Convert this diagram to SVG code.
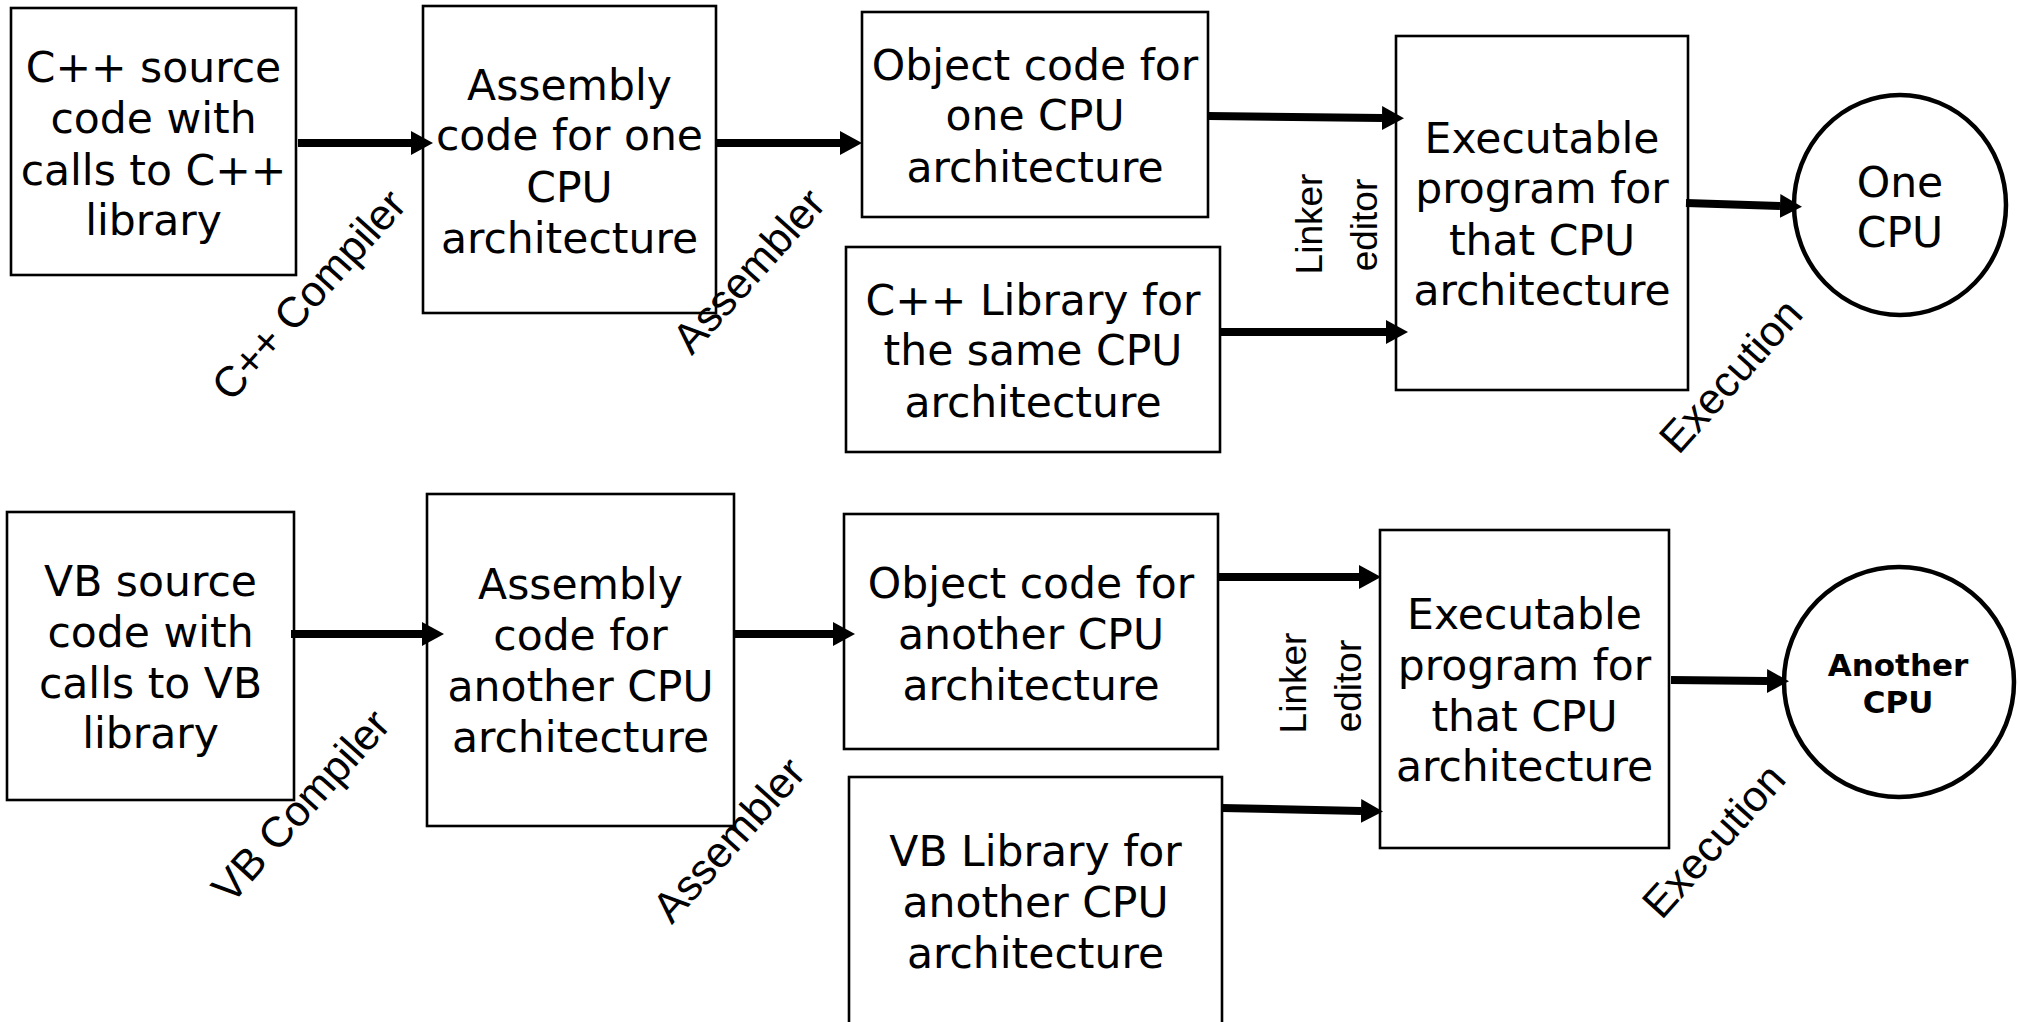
<svg xmlns="http://www.w3.org/2000/svg" width="2019" height="1022" viewBox="0 0 2019 1022">
  <style>
    .box { fill: #ffffff; stroke: #000000; stroke-width: 2.6; }
    .cpu { fill: #ffffff; stroke: #000000; stroke-width: 4.5; }
    .txt { font-family: "DejaVu Sans", Verdana, sans-serif; font-size: 42.5px; fill: #000000; text-anchor: middle; }
    .cpub { font-family: "DejaVu Sans", Verdana, sans-serif; font-size: 31px; font-weight: bold; fill: #000000; text-anchor: middle; }
    .lbl { font-family: "Liberation Sans", Arial, sans-serif; font-size: 43px; fill: #000000; text-anchor: middle; }
    .lnk { font-family: "Liberation Sans", Arial, sans-serif; font-size: 37px; fill: #000000; text-anchor: middle; }
    .flow { stroke: #000000; stroke-width: 8; fill: none; marker-end: url(#head); }
  </style>
  <defs>
    <marker id="head" markerUnits="userSpaceOnUse" markerWidth="22" markerHeight="24" viewBox="0 0 22 24" refX="0" refY="12" orient="auto">
      <path d="M0,0 L22,12 L0,24 Z" fill="#000000"/>
    </marker>
  </defs>

  <rect width="2019" height="1022" fill="#ffffff"/>

  <!-- C++ toolchain (upper row) -->
  <g id="cpp-source">
    <rect class="box" x="11" y="8" width="285" height="267"/>
    <text class="txt" x="153.5" y="82">C++ source</text>
    <text class="txt" x="153.5" y="133">code with</text>
    <text class="txt" x="153.5" y="185">calls to C++</text>
    <text class="txt" x="153.5" y="235">library</text>
  </g>
  <g id="cpp-assembly">
    <rect class="box" x="423" y="6" width="293" height="307"/>
    <text class="txt" x="569.5" y="100">Assembly</text>
    <text class="txt" x="569.5" y="150">code for one</text>
    <text class="txt" x="569.5" y="202">CPU</text>
    <text class="txt" x="569.5" y="253">architecture</text>
  </g>
  <g id="cpp-object">
    <rect class="box" x="862" y="12" width="346" height="205"/>
    <text class="txt" x="1035" y="80">Object code for</text>
    <text class="txt" x="1035" y="130">one CPU</text>
    <text class="txt" x="1035" y="182">architecture</text>
  </g>
  <g id="cpp-library">
    <rect class="box" x="846" y="247" width="374" height="205"/>
    <text class="txt" x="1033" y="315">C++ Library for</text>
    <text class="txt" x="1033" y="365">the same CPU</text>
    <text class="txt" x="1033" y="417">architecture</text>
  </g>
  <g id="cpp-executable">
    <rect class="box" x="1396" y="36" width="292" height="354"/>
    <text class="txt" x="1542" y="153">Executable</text>
    <text class="txt" x="1542" y="203">program for</text>
    <text class="txt" x="1542" y="255">that CPU</text>
    <text class="txt" x="1542" y="305">architecture</text>
  </g>
  <g id="one-cpu">
    <ellipse class="cpu" cx="1900" cy="205" rx="106" ry="110"/>
    <text class="txt" x="1900" y="197">One</text>
    <text class="txt" x="1900" y="247">CPU</text>
  </g>

  <!-- VB toolchain (lower row) -->
  <g id="vb-source">
    <rect class="box" x="7" y="512" width="287" height="288"/>
    <text class="txt" x="150.5" y="596">VB source</text>
    <text class="txt" x="150.5" y="647">code with</text>
    <text class="txt" x="150.5" y="698">calls to VB</text>
    <text class="txt" x="150.5" y="748">library</text>
  </g>
  <g id="vb-assembly">
    <rect class="box" x="427" y="494" width="307" height="332"/>
    <text class="txt" x="580.5" y="599">Assembly</text>
    <text class="txt" x="580.5" y="650">code for</text>
    <text class="txt" x="580.5" y="701">another CPU</text>
    <text class="txt" x="580.5" y="752">architecture</text>
  </g>
  <g id="vb-object">
    <rect class="box" x="844" y="514" width="374" height="235"/>
    <text class="txt" x="1031" y="598">Object code for</text>
    <text class="txt" x="1031" y="649">another CPU</text>
    <text class="txt" x="1031" y="700">architecture</text>
  </g>
  <g id="vb-library">
    <rect class="box" x="849" y="777" width="373" height="260"/>
    <text class="txt" x="1035.5" y="866">VB Library for</text>
    <text class="txt" x="1035.5" y="917">another CPU</text>
    <text class="txt" x="1035.5" y="968">architecture</text>
  </g>
  <g id="vb-executable">
    <rect class="box" x="1380" y="530" width="289" height="318"/>
    <text class="txt" x="1524.5" y="629">Executable</text>
    <text class="txt" x="1524.5" y="680">program for</text>
    <text class="txt" x="1524.5" y="731">that CPU</text>
    <text class="txt" x="1524.5" y="781">architecture</text>
  </g>
  <g id="another-cpu">
    <ellipse class="cpu" cx="1899" cy="682" rx="115" ry="115"/>
    <text class="cpub" x="1898" y="676">Another</text>
    <text class="cpub" x="1898" y="713">CPU</text>
  </g>

  <!-- data flow between stages -->
  <g id="connectors">
    <line class="flow" x1="298" y1="143" x2="411" y2="143"/>
    <line class="flow" x1="717" y1="143" x2="840" y2="143"/>
    <line class="flow" x1="1208" y1="116" x2="1382" y2="118"/>
    <line class="flow" x1="1220" y1="332" x2="1386" y2="332"/>
    <line class="flow" x1="1686" y1="203" x2="1780" y2="206"/>

    <line class="flow" x1="291" y1="634" x2="422" y2="634"/>
    <line class="flow" x1="734" y1="634" x2="833" y2="634"/>
    <line class="flow" x1="1218" y1="577" x2="1359" y2="577"/>
    <line class="flow" x1="1222" y1="808" x2="1361" y2="811"/>
    <line class="flow" x1="1671" y1="680" x2="1767" y2="681"/>
  </g>

  <!-- tool labels -->
  <g id="tool-labels">
    <text class="lbl" transform="translate(310,296) rotate(-48)" y="13">C++ Compiler</text>
    <text class="lbl" transform="translate(750,272) rotate(-48)" y="13">Assembler</text>
    <text class="lbl" transform="translate(1732,377) rotate(-48)" y="13">Execution</text>
    <text class="lnk" transform="translate(1322,224) rotate(-90)">Linker</text>
    <text class="lnk" transform="translate(1377,225) rotate(-90)">editor</text>

    <text class="lbl" transform="translate(302,807) rotate(-48)" y="13">VB Compiler</text>
    <text class="lbl" transform="translate(730,841) rotate(-48)" y="13">Assembler</text>
    <text class="lbl" transform="translate(1715,842) rotate(-48)" y="13">Execution</text>
    <text class="lnk" transform="translate(1306,683) rotate(-90)">Linker</text>
    <text class="lnk" transform="translate(1361,686) rotate(-90)">editor</text>
  </g>
</svg>
